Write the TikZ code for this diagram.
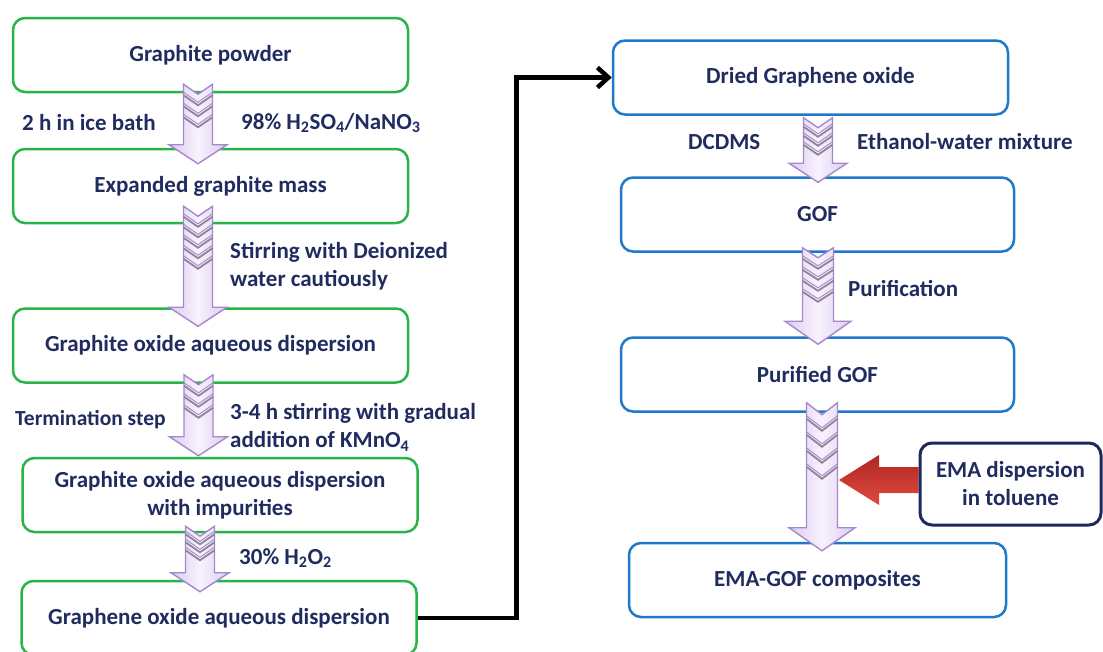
\documentclass[tikz,border=0pt]{standalone}
\usepackage{fontspec}
\setmainfont{Carlito}
\usetikzlibrary{arrows.meta,calc,backgrounds}

\definecolor{txtblue}{RGB}{32,44,96}
\definecolor{boxgreen}{RGB}{40,180,72}
\definecolor{boxblue}{RGB}{32,120,200}
\definecolor{boxnavy}{RGB}{30,40,95}
\definecolor{lavlight}{RGB}{248,242,253}
\definecolor{lavdark}{RGB}{220,204,240}
\definecolor{lavline}{RGB}{165,135,205}
\definecolor{chevgray}{RGB}{140,134,152}
\definecolor{reddark}{RGB}{176,38,34}
\definecolor{redlight}{RGB}{224,74,64}

\tikzset{
  stepgreen/.style={draw=boxgreen, line width=2.5pt, rounded corners=12pt, fill=white,
    minimum width=395pt, minimum height=74pt, align=center, text=txtblue,
    font=\fontsize{23}{28}\selectfont\bfseries},
  stepblue/.style={stepgreen, draw=boxblue},
  stepnavy/.style={stepgreen, draw=boxnavy, line width=3pt, minimum width=181pt, minimum height=82pt},
  lbl/.style={text=txtblue, inner sep=0pt, anchor=west, align=left,
    font=\fontsize{23}{28}\selectfont\bfseries},
  arrowbody/.style={draw=lavline, line width=1.4pt, line join=miter,
    left color=lavdark, right color=lavdark, middle color=lavlight},
  chevline/.style={draw=chevgray, line width=1.8pt},
  chevtop/.style={draw=lavline, line width=0.9pt},
  flowline/.style={draw=black, line width=4.5pt, -{Straight Barb[length=11pt,width=20pt]}},
  redarrow/.style={top color=reddark, bottom color=redlight, draw=none}
}

% arrow sizes
\newcommand{\arshaft}{14.5}
\newcommand{\arhead}{29}
\newcommand{\arhlen}{19}
\newcommand{\arnotch}{10}

% striped arrow: from, to, x, lift, drop, chevrons, gap
\newcommand{\chevarrow}[7]{%
  \path[arrowbody] let \p1=(#1.south), \p2=(#2.north),
      \n1={\y1+#4pt}, \n2={\y2-#5pt}, \n3={\y2-#5pt+\arhlen pt} in
    ({#3pt-\arshaft pt},\n1) -- (#3pt,{\n1-\arnotch pt}) -- ({#3pt+\arshaft pt},\n1)
    -- ({#3pt+\arshaft pt},\n3) -- ({#3pt+\arhead pt},\n3) -- (#3pt,\n2)
    -- ({#3pt-\arhead pt},\n3) -- ({#3pt-\arshaft pt},\n3) -- cycle;
  \foreach \k in {1,...,#6}{
    \draw[chevline] let \p1=(#1.south), \n1={\y1+#4pt-\k*#7pt} in
      ({#3pt-\arshaft pt},\n1) -- (#3pt,{\n1-\arnotch pt}) -- ({#3pt+\arshaft pt},\n1);
    \draw[chevtop] let \p1=(#1.south), \n1={\y1+#4pt-\k*#7pt+3pt} in
      ({#3pt-\arshaft pt},\n1) -- (#3pt,{\n1-\arnotch pt}) -- ({#3pt+\arshaft pt},\n1);
  }
}

\begin{document}
\begin{tikzpicture}[x=1pt,y=-1pt]
\useasboundingbox (0,0) rectangle (1103,651);
\clip (0,0) rectangle (1103,651);

% left column
\node[stepgreen] (g1) at (210.5,55) {Graphite powder};
\node[stepgreen] (g2) at (210.5,186) {Expanded graphite mass};
\node[stepgreen] (g3) at (210.5,345.5) {Graphite oxide aqueous dispersion};
\node[stepgreen] (g4) at (220,495) {Graphite oxide aqueous dispersion\\with impurities};
\node[stepgreen] (g5) at (219,618) {Graphene oxide aqueous dispersion};

\node[lbl] (t1) at (22,123) {2 h in ice bath};
\node[lbl] (t2) at (241,123) {98\% H\textsubscript{2}SO\textsubscript{4}/NaNO\textsubscript{3}};
\node[lbl] (t3) at (230,266) {Stirring with Deionized\\water cautiously};
\node[lbl, font=\fontsize{21.5}{26}\selectfont\bfseries] (t4) at (15,420) {Termination step};
\node[lbl] (t5) at (230,427.5) {3-4 h stirring with gradual\\addition of KMnO\textsubscript{4}};
\node[lbl] (t6) at (239,558) {30\% H\textsubscript{2}O\textsubscript{2}};

% right column
\node[stepblue] (d1) at (810.5,77.5) {Dried Graphene oxide};
\node[stepblue, minimum width=393pt] (d2) at (817.5,214.5) {GOF};
\node[stepblue, minimum width=393pt] (d3) at (817.5,374.5) {Purified GOF};
\node[stepblue, minimum width=377pt] (d4) at (817.5,580) {EMA-GOF composites};
\node[stepnavy] (ema) at (1010.5,484) {EMA dispersion\\in toluene};
\coordinate (mixin) at (839,480);

\node[lbl] (r1) at (688,142) {DCDMS};
\node[lbl] (r2) at (857,142) {Ethanol-water mixture};
\node[lbl] (r3) at (848,288) {Purification};

\begin{scope}[on background layer]
\draw[flowline] (g5.east) -- ++(98.5,0) |- (d1.west);
\path[redarrow] let \p1=(ema.west), \p2=(mixin) in
  (\x1,{\y2+13pt}) -- ({\x2+40pt},{\y2+13pt}) -- ({\x2+40pt},{\y2+25pt}) -- (\x2,\y2)
  -- ({\x2+40pt},{\y2-25pt}) -- ({\x2+40pt},{\y2-13pt}) -- (\x1,{\y2-13pt}) -- cycle;
\end{scope}

\chevarrow{g1}{g2}{198}{9}{16}{3}{11}
\chevarrow{g2}{g3}{198}{18}{19}{5}{10.5}
\chevarrow{g3}{g4}{198.5}{9}{-1}{3}{11}
\chevarrow{g4}{g5}{200}{7}{12}{3}{8}
\chevarrow{d1}{d2}{818}{-2}{6}{3}{9}

\renewcommand{\arshaft}{15.5}
\renewcommand{\arhead}{33}
\renewcommand{\arhlen}{23}
\chevarrow{d2}{d3}{818}{5}{8}{4}{11}
\renewcommand{\arnotch}{12}
\chevarrow{d3}{d4}{822}{10}{9}{4}{16}

\end{tikzpicture}
\end{document}
